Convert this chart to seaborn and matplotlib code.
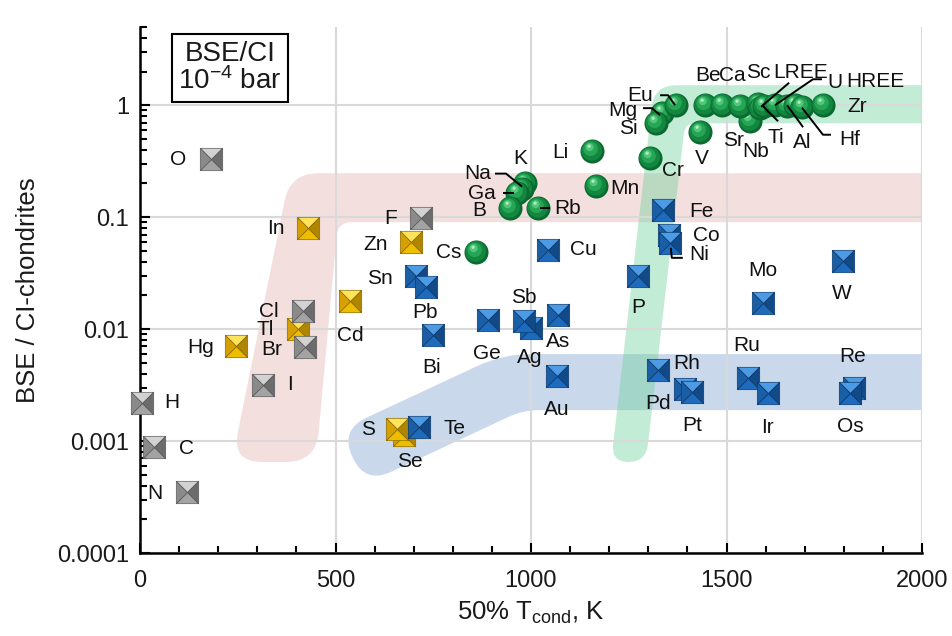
import numpy as np
import pandas as pd
import matplotlib
matplotlib.use("Agg")
import matplotlib.pyplot as plt
import seaborn as sns
from matplotlib.path import Path
from matplotlib.patches import PathPatch
from matplotlib.ticker import FixedLocator, FixedFormatter, MultipleLocator, LogLocator, NullFormatter

sns.set_theme(style="white")
plt.rcParams["font.family"] = ["Liberation Sans", "DejaVu Sans"]
plt.rcParams["mathtext.fontset"] = "custom"
plt.rcParams["mathtext.rm"] = "Liberation Sans"
plt.rcParams["mathtext.it"] = "Liberation Sans:italic"
plt.rcParams["mathtext.bf"] = "Liberation Sans:bold"
for key in ("text.color", "axes.labelcolor", "xtick.color", "ytick.color"):
    plt.rcParams[key] = "#1a1a1a"

# ---------------- data: 50% condensation temperature (K) and BSE/CI ratio ----------------
gray_el = ["O", "F", "Cl", "Br", "I", "H", "C", "N"]
gray_t = [182, 719, 417, 422, 315, 5, 36, 120]
gray_r = [0.33, 0.098, 0.0145, 0.0069, 0.0032, 0.0022, 0.00088, 0.00035]

gold_el = ["In", "Zn", "Cd", "Hg", "Tl", "Se", "S"]
gold_t = [430, 693, 537, 246, 404, 675, 657]
gold_r = [0.080, 0.060, 0.0178, 0.0070, 0.0100, 0.00113, 0.00128]

blue_el = ["Sn", "Pb", "Bi", "Ge", "Ag", "Sb", "As", "Au", "Cu", "P", "Fe", "Co", "Ni",
           "Mo", "W", "Pd", "Rh", "Pt", "Ru", "Ir", "Re", "Os", "Te"]
blue_t = [706, 731, 749, 890, 1000, 982, 1069, 1066, 1043, 1274, 1337, 1353, 1355,
          1593, 1798, 1325, 1394, 1412, 1555, 1606, 1826, 1816, 714]
blue_r = [0.030, 0.024, 0.0088, 0.012, 0.0102, 0.0118, 0.0133, 0.0038, 0.051, 0.030, 0.115, 0.069, 0.059,
          0.017, 0.041, 0.0043, 0.0029, 0.00274, 0.00365, 0.0027, 0.0030, 0.0027, 0.00133]

green_el = ["Cs", "K", "Na", "Ga", "B", "Rb", "Li", "Mn", "Cr", "Mg", "Si", "Eu", "V", "Nb",
            "Be", "Ca", "Sr", "Sc", "LREE", "Ti", "U", "Al", "HREE", "Hf", "Zr"]
green_t = [859, 985, 977, 964, 946, 1018, 1156, 1166, 1304, 1335, 1320, 1371, 1432, 1560,
           1445, 1488, 1535, 1581, 1586, 1596, 1624, 1655, 1675, 1693, 1747]
green_r = [0.049, 0.20, 0.18, 0.164, 0.12, 0.122, 0.39, 0.19, 0.34, 0.85, 0.70, 1.0, 0.574, 0.73,
           1.0, 1.0, 0.98, 1.02, 0.95, 0.98, 1.0, 0.98, 1.0, 0.97, 1.0]

y_ticks = [1e-4, 1e-3, 1e-2, 1e-1, 1]
y_ticklabels = ["0.0001", "0.001", "0.01", "0.1", "1"]
x_ticks = [0, 500, 1000, 1500, 2000]

# label placement (pixel offsets from the marker centre, +y downwards)
label_off = {
    "O": (-33, 0), "F": (-31, 0), "Cl": (-34, 0), "Br": (-33, 2), "I": (27, 0), "H": (30, 0),
    "C": (32, 1), "N": (-32, 1),
    "In": (-32, 0), "Zn": (-35, 2), "Cd": (0, 34), "Tl": (-33, 0), "Hg": (-36, 1), "S": (-29, 0),
    "Se": (6, 26),
    "Te": (35, 1), "Sn": (-36, 3), "Pb": (-1, 26), "Bi": (-1, 32), "Ge": (-1, 33), "Sb": (0, -24),
    "Ag": (-1, 29), "As": (0, 26), "Au": (0, 33), "Cu": (36, 0), "P": (0, 32), "Fe": (39, 1),
    "Co": (37, 0), "Ni": (29, 12), "Mo": (0, -33), "W": (-1, 33), "Pd": (0, 33), "Rh": (2, -26),
    "Pt": (0, 33), "Ru": (-1, -33), "Ir": (-1, 35), "Re": (-1, -31), "Os": (0, 34),
    "Cs": (-27, 1), "B": (-31, 2), "Ga": (-35, 0), "Na": (-44, -15), "K": (-5, -25), "Rb": (30, 1),
    "Li": (-32, 1), "Mn": (29, 3), "Cr": (23, 13), "Si": (-28, 6), "Mg": (-39, -3), "Eu": (-36, -10),
    "V": (2, 26), "Be": (3, -30), "Ca": (11, -30), "Sc": (0, -32), "LREE": (40, -35), "U": (60, -23),
    "HREE": (80, -24), "Ti": (12, 31), "Al": (15, 36), "Hf": (48, 33), "Sr": (-7, 34), "Nb": (6, 31),
    "Zr": (34, 1),
}
leaders = {
    "Ga": [(-14, 0), (-3, 0)],
    "Na": [(-27, -15), (-16, -15), (0, -2)],
    "Rb": [(2, 0), (12, 0)],
    "Mg": [(-19, -5), (-10, -5), (-2, 2)],
    "Eu": [(-16, -10), (-8, -10), (-1, 0)],
    "LREE": [(29, -25), (1, -1)],
    "U": [(47, -26), (38, -26), (0, 0)],
    "Ti": [(14, 15), (-2, -1)],
    "Al": [(16, 21), (0, -1)],
    "Hf": [(0, 1), (21, 28), (29, 28)],
    "Ni": [(1, 5), (2, 15), (13, 15)],
}

# ---------------- figure ----------------
fig = plt.figure(figsize=(9.52, 6.36), dpi=100)
ax = fig.add_axes([140 / 952, 83 / 636, 782 / 952, 526 / 636])
ax.set_yscale("log")
ax.set_xlim(0, 2000)
ax.set_ylim(1e-4, 5)
ax.set_facecolor("white")


def rounded_band(xs, ys, radii, color, alpha):
    pts = ax.transData.transform(np.column_stack([xs, ys]))
    n = len(pts)
    verts, codes = [], []
    for i in range(n):
        p, a, b = pts[i], pts[i - 1], pts[(i + 1) % n]
        r = radii[i]
        if r <= 0:
            verts.append(p)
            codes.append(Path.LINETO)
            continue
        da, db = a - p, b - p
        la, lb = np.hypot(*da), np.hypot(*db)
        verts += [p + da / la * min(r, la / 2), p, p + db / lb * min(r, lb / 2)]
        codes += [Path.LINETO, Path.CURVE3, Path.CURVE3]
    codes[0] = Path.MOVETO
    verts.append(verts[0])
    codes.append(Path.CLOSEPOLY)
    data = ax.transData.inverted().transform(np.array(verts))
    ax.add_patch(PathPatch(Path(data, codes), facecolor=color, edgecolor="none",
                           alpha=alpha, zorder=0.2))


# condensation trend zones
rounded_band([384, 2100, 2100, 506, 450, 235], [0.247, 0.247, 0.0902, 0.0902, 0.00065, 0.00065],
             [28, 0, 0, 14, 30, 30], "#e6b8b7", 0.45)
rounded_band([511.5, 928, 2100, 2100, 979.5, 575.4], [0.001254, 0.00598, 0.00598, 0.00189, 0.00189, 0.000413],
             [29, 28, 0, 0, 16, 29], "#8eaed6", 0.48)
rounded_band([1315, 2100, 2100, 1394, 1294, 1205], [1.509, 1.509, 0.690, 0.690, 0.00065, 0.00065],
             [22, 0, 0, 10, 18, 18], "#6fd39b", 0.42)

# ---------------- marker shapes ----------------
tri_top = Path([(-1, 1), (1, 1), (0, 0), (-1, 1)], [1, 2, 2, 79])
tri_bot = Path([(-1, -1), (1, -1), (0, 0), (-1, -1)], [1, 2, 2, 79])
tri_left = Path([(-1, -1), (-1, 1), (0, 0), (-1, -1)], [1, 2, 2, 79])
tri_right = Path([(1, -1), (1, 1), (0, 0), (1, -1)], [1, 2, 2, 79])
frame = Path([(1, 1), (-1, -1)], [Path.MOVETO, Path.MOVETO])


def disc(cx, cy, r):
    return Path.make_compound_path(Path.circle((cx, cy), r), frame)


sphere_layers = [
    (disc(0, 0, 1.0), "#0a6a30"),
    (disc(-0.07, 0.09, 0.86), "#13873f"),
    (disc(-0.16, 0.22, 0.6), "#26a655"),
    (disc(-0.24, 0.36, 0.33), "#52c77c"),
    (disc(-0.28, 0.44, 0.14), "#a9ecc0"),
]

pyramid_colors = {
    "gray": ("#d2d2d2", "#a3a3a3", "#8a8a8a", "#6c6c6c", "#5a5a5a"),
    "gold": ("#ffe45a", "#efbd00", "#d6a000", "#b08500", "#8a6a00"),
    "blue": ("#4d9be4", "#1e6bbd", "#1a5ea6", "#124a87", "#0c3a6e"),
}


def pyramids(els, ts, rs, key, z0):
    top, bot, left, right, edge = pyramid_colors[key]
    df = pd.DataFrame({"el": els, "t": ts, "r": rs})
    for i, row in df.iterrows():
        one = df.loc[[i]]
        for shape, col in ((tri_top, top), (tri_bot, bot), (tri_left, left), (tri_right, right)):
            sns.scatterplot(data=one, x="t", y="r", marker=shape, s=260, color=col,
                            edgecolor=edge, linewidth=0.5, ax=ax, zorder=z0 + i * 0.01,
                            legend=False, clip_on=False)
    return df


def spheres(els, ts, rs, z0):
    df = pd.DataFrame({"el": els, "t": ts, "r": rs})
    for i, row in df.iterrows():
        one = df.loc[[i]]
        for shape, col in sphere_layers:
            sns.scatterplot(data=one, x="t", y="r", marker=shape, s=300, color=col,
                            linewidth=0, ax=ax, zorder=z0 + i * 0.01, legend=False, clip_on=False)
    return df


frames = [
    pyramids(gold_el, gold_t, gold_r, "gold", 3),
    pyramids(gray_el, gray_t, gray_r, "gray", 4),
    pyramids(blue_el, blue_t, blue_r, "blue", 5),
    spheres(green_el, green_t, green_r, 6),
]

# ---------------- labels and leader lines ----------------
for df in frames:
    for _, row in df.iterrows():
        dx, dy = label_off[row["el"]]
        ax.annotate(row["el"], xy=(row["t"], row["r"]), xytext=(dx * 0.72, -dy * 0.72),
                    textcoords="offset points", ha="center", va="center",
                    fontsize=15, color="#111111", zorder=12)
        if row["el"] in leaders:
            base = ax.transData.transform((row["t"], row["r"]))
            pts = np.array([[base[0] + ox, base[1] - oy] for ox, oy in leaders[row["el"]]])
            d = ax.transData.inverted().transform(pts)
            ax.plot(d[:, 0], d[:, 1], color="black", lw=1.4, zorder=11, solid_capstyle="butt")

# ---------------- axes styling ----------------
ax.set_axisbelow(True)
ax.grid(True, which="major", color="#d9d9d9", lw=1.5)
ax.xaxis.set_major_locator(FixedLocator(x_ticks))
ax.xaxis.set_minor_locator(MultipleLocator(100))
ax.yaxis.set_major_locator(FixedLocator(y_ticks))
ax.yaxis.set_major_formatter(FixedFormatter(y_ticklabels))
ax.yaxis.set_minor_locator(LogLocator(base=10, subs=np.arange(2, 10)))
ax.yaxis.set_minor_formatter(NullFormatter())
ax.tick_params(which="both", direction="in", color="black", width=1.5, left=True, bottom=True)
ax.tick_params(which="major", length=7, labelsize=17)
ax.tick_params(which="minor", length=5)
ax.tick_params(axis="x", pad=12)
ax.tick_params(axis="y", pad=8)
for side in ("top", "right"):
    ax.spines[side].set_visible(False)
for side in ("left", "bottom"):
    ax.spines[side].set_color("black")
    ax.spines[side].set_linewidth(1.8)

ax.set_xlabel(r"50% T$_{\mathrm{cond}}$, K", fontsize=18.5, labelpad=6)
ax.set_ylabel("BSE / CI-chondrites", fontsize=18.5, labelpad=12)

ax.text(0.115, 0.922, "BSE/CI\n10$^{-4}$ bar", transform=ax.transAxes, ha="center", va="center",
        fontsize=20, linespacing=1.05, zorder=13,
        bbox=dict(boxstyle="square,pad=0.22", facecolor="white", edgecolor="black", lw=1.5))

fig.savefig("out.png", dpi=100)
